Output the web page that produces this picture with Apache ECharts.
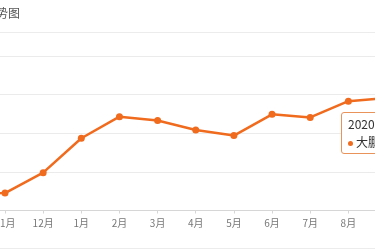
<!DOCTYPE html>
<html>
<head>
<meta charset="utf-8">
<script src="https://cdn.jsdelivr.net/npm/echarts@6/dist/echarts.min.js"></script>
<style>
html,body{margin:0;padding:0;width:375px;height:250px;overflow:hidden;background:#fff;}
#chart{position:absolute;left:-60px;top:0;width:560px;height:250px;}
</style>
</head>
<body>
<div id="chart"></div>
<script>
// ---- data ----
const titleText = '房价走势图';
const seriesName = '大鹏新区';
const categories = ['10月','11月','12月','1月','2月','3月','4月','5月','6月','7月','8月','9月'];
const periods = ['2019年10月','2019年11月','2019年12月','2020年1月','2020年2月','2020年3月','2020年4月','2020年5月','2020年6月','2020年7月','2020年8月','2020年9月'];
const prices = [24400, 24500, 29800, 38700, 44300, 43300, 40850, 39400, 44900, 44100, 48300, 49100];
const yMin = 20000, yMax = 60000, yInterval = 10000;
const tipIndex = 11;

const ORANGE = '#f06b1e';
const FONT = '"Noto Sans CJK SC", "Noto Sans", sans-serif';

const chart = echarts.init(document.getElementById('chart'), null, {renderer: 'canvas'});
chart.setOption({
  animation: false,
  textStyle: {fontFamily: FONT},
  title: {
    text: titleText,
    left: 15, top: 2,
    textStyle: {fontSize: 12, fontWeight: 'normal', color: '#555', fontFamily: FONT}
  },
  graphic: [
    {type: 'line', shape: {x1: 0, y1: 32.5, x2: 560, y2: 32.5}, style: {stroke: '#ececec', lineWidth: 1}, silent: true},
    {type: 'line', shape: {x1: 0, y1: 248.5, x2: 560, y2: 248.5}, style: {stroke: '#ececec', lineWidth: 1}, silent: true}
  ],
  grid: {left: 26.85, width: 419.65, top: 56, bottom: 39.5, containLabel: false, outerBoundsMode: 'none'},
  xAxis: {
    type: 'category',
    data: categories,
    boundaryGap: false,
    axisLine: {lineStyle: {color: '#d6d6d6', width: 1}},
    axisTick: {show: true, length: 3, alignWithLabel: true, lineStyle: {color: '#d6d6d6'}},
    axisLabel: {fontSize: 10, color: '#777', margin: 8, fontFamily: FONT}
  },
  yAxis: {
    type: 'value',
    min: yMin, max: yMax, interval: yInterval,
    axisLine: {show: false},
    axisTick: {show: false},
    axisLabel: {fontSize: 10, color: '#777'},
    splitLine: {lineStyle: {color: '#ebebeb', width: 1}}
  },
  tooltip: {
    trigger: 'item',
    triggerOn: 'none',
    alwaysShowContent: true,
    transitionDuration: 0,
    position: [401, 112],
    backgroundColor: '#fff',
    borderColor: '#e9925a',
    borderWidth: 1,
    borderRadius: 3,
    padding: [2, 6],
    textStyle: {color: '#333', fontSize: 12, fontFamily: FONT},
    extraCssText: 'box-shadow:none;line-height:18px;white-space:nowrap;',
    formatter: function (p) {
      return '<div style="line-height:18px">' + periods[p.dataIndex] + '</div>' +
        '<div style="line-height:18px"><span style="display:inline-block;width:5px;height:5px;border-radius:50%;background:' + ORANGE + ';margin-right:3px;vertical-align:middle;"></span>' +
        p.seriesName + '：' + p.value + '元/㎡</div>';
    }
  },
  series: [{
    name: seriesName,
    type: 'line',
    data: prices,
    symbol: 'circle',
    symbolSize: 7,
    showSymbol: true,
    lineStyle: {color: ORANGE, width: 2.5},
    itemStyle: {color: ORANGE},
    emphasis: {disabled: true}
  }]
});
chart.dispatchAction({type: 'showTip', seriesIndex: 0, dataIndex: tipIndex});
</script>
</body>
</html>
